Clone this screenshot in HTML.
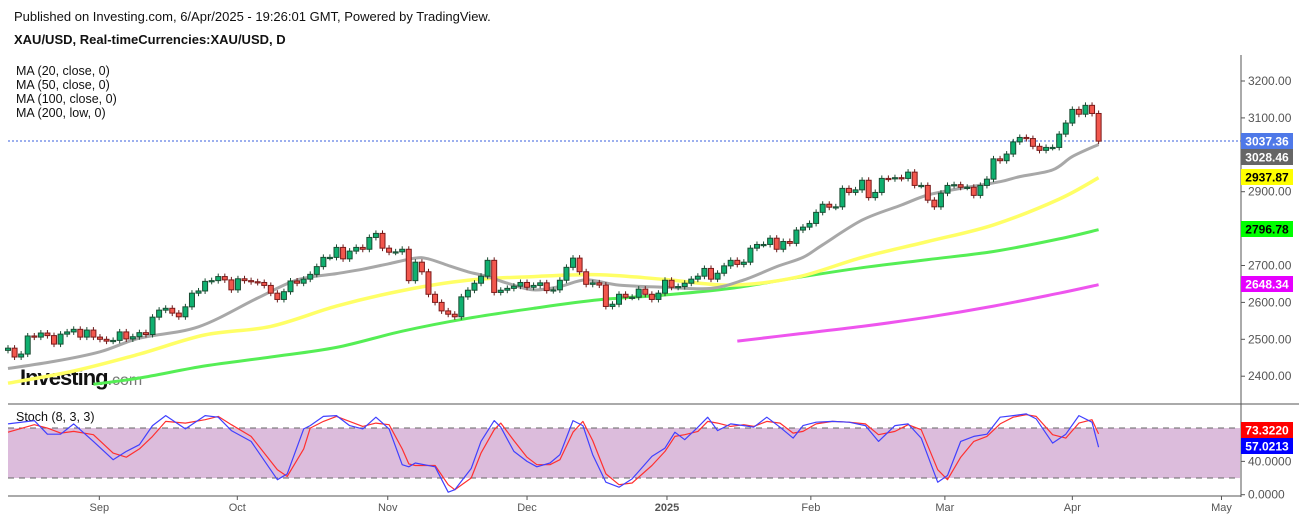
<!DOCTYPE html>
<html><head><meta charset="utf-8"><style>
body{margin:0;background:#fff;font-family:"Liberation Sans",sans-serif;}
#wrap{position:relative;width:1299px;height:520px;overflow:hidden;}
.t{position:absolute;font-size:13px;color:#111;white-space:nowrap;}
</style></head><body>
<div id="wrap">
<div class="t" style="left:14px;top:9px;">Published on Investing.com, 6/Apr/2025 - 19:26:01 GMT, Powered by TradingView.</div>
<div class="t" style="left:14px;top:32px;font-weight:bold;">XAU/USD, Real-timeCurrencies:XAU/USD, D</div>
<div class="t" style="left:16px;top:64px;line-height:14px;font-size:12.5px;">MA (20, close, 0)<br>MA (50, close, 0)<br>MA (100, close, 0)<br>MA (200, low, 0)</div>
<div class="t" style="left:20px;top:365px;font-size:22px;font-weight:bold;letter-spacing:-1px;">Investing<span style="font-weight:normal;color:#777;font-size:16px;letter-spacing:0">.com</span></div>
<div class="t" style="left:16px;top:410px;font-size:12.5px;">Stoch (8, 3, 3)</div>
<svg id="svg" width="1299" height="520" style="position:absolute;left:0;top:0;"></svg>
</div>
<script>
const closes=[2476,2452,2460,2509,2506,2517,2510,2487,2514,2520,
2527,2506,2525,2506,2500,2495,2497,2520,2501,2507,
2518,2513,2560,2579,2584,2571,2561,2588,2625,2631,
2657,2659,2670,2661,2634,2664,2659,2656,2654,2646,
2625,2608,2629,2658,2652,2663,2676,2697,2722,2722,
2749,2718,2739,2749,2744,2776,2787,2747,2736,2737,
2744,2659,2709,2683,2622,2600,2577,2568,2561,2615,
2633,2652,2671,2714,2627,2633,2638,2644,2654,2641,
2646,2653,2632,2634,2660,2695,2720,2683,2649,2653,
2647,2589,2595,2622,2614,2614,2636,2622,2608,2625,
2660,2641,2643,2652,2663,2671,2692,2663,2679,2699,
2714,2703,2709,2747,2757,2757,2774,2744,2765,2760,
2796,2804,2814,2844,2866,2858,2859,2909,2898,2905,
2931,2884,2898,2936,2935,2938,2936,2953,2917,2917,
2877,2859,2896,2917,2919,2912,2912,2890,2917,2934,
2989,2984,3002,3035,3047,3044,3023,3012,3020,3020,
3056,3086,3123,3110,3134,3112,3037];
const firstOpen=2470;
const ma20Bars=[0,7,14,20,29,38,44,50,54,58,62,64,67,70,73,76,80,84,88,93,100,107,112,117,121,124,130,136,140,145,151,154,159,162,166];
const ma20Vals=[2421,2440,2466,2503,2534,2612,2661,2678,2690,2705,2720,2718,2700,2683,2670,2652,2634,2643,2661,2647,2641,2638,2661,2697,2722,2756,2823,2864,2891,2909,2927,2941,2959,2995,3028];
const ma50Bars=[0,10,20,30,40,50,60,70,80,90,100,110,120,130,140,150,160,166];
const ma50Vals=[2381,2414,2460,2512,2535,2590,2632,2660,2670,2675,2662,2647,2668,2722,2765,2810,2880,2938];
const ma100Bars=[13,20,30,40,50,60,70,80,90,100,110,120,130,140,150,160,166];
const ma100Vals=[2378,2395,2428,2452,2478,2522,2557,2584,2607,2620,2638,2667,2694,2716,2738,2772,2797];
const ma200Bars=[111,120,130,140,150,160,166];
const ma200Vals=[2495,2514,2535,2560,2590,2625,2648];
const stBars=[0,4,6,8,10,13,16,18,20,22,24,27,30,32,34,37,41,42.5,45,46,48,50,52,54,56,58,60,61,62,65,67,68,70.5,72,74,75,77,79,80.5,82.5,84,86,87.5,89,91,93,95,98,100,101.5,103,105,106.5,108,110,112,113.5,115.5,117.5,119.5,121,123,125.5,128,130.5,132.5,135,137,139,141.5,143,145,147,149,151,153,155,156.5,159,161,163,165,166];
const stK=[85,89,72.6,72.6,85,64,42,52,60,83,95,79,95,93,77,64,18,25,79,83,94,95,83,79,93,79,36,33.5,38,33.5,3,6,31.5,64,89,81,52,40,33.5,38,48,89,83,48,15,9,19,46,56,75,66,81,93,77,85,83,81,93,81,68,83,87,88,87,83,64,83,85,68,15,23,64,70,72.6,93,95,97,91,62,72.6,95,87,57];
const stD=[75,84,80,74,76,72,50,45,55,70,88,86,90,94,84,70,30,22,55,80,88,94,88,82,86,84,55,37,35,35,12,6,20,50,78,86,65,45,36,36,42,75,88,65,25,12,14,35,52,70,72,76,88,86,82,84,82,88,86,74,76,85,88,87,85,72,76,84,78,30,18,45,64,70,85,93,96,94,72,68,86,90,73];
const priceTicks=[3200,3100,2900,2700,2600,2500,2400];
const months=["Sep","Oct","Nov","Dec","2025","Feb","Mar","Apr","May"];
const monthBars=[13.9,34.9,57.8,79,100.3,122.2,142.6,162,184.7];
const labels=[["3037.36",3037.36,"#4f79e8","#fff"],["3028.46",3028.46,"#666","#fff"],["2937.87",2937.87,"#ffff00","#000"],["2796.78",2796.78,"#00ff00","#000"],["2648.34",2648.34,"#e600ff","#fff"]];
const labelY=[141,157,177,229,284];

const X=i=>8+i*6.57;
const Y=p=>81+(3200-p)*0.369;
const SY=v=>494.7-v*0.833;
const svg=document.getElementById('svg');
const NS='http://www.w3.org/2000/svg';
function mk(tag,at,parent){const e=document.createElementNS(NS,tag);for(const k in at)e.setAttribute(k,at[k]);(parent||svg).appendChild(e);return e;}

let e;
e=mk('line',{x1:1241,y1:55,x2:1241,y2:497,stroke:'#555','stroke-width':1});

e=mk('line',{x1:8,y1:404,x2:1299,y2:404,stroke:'#555','stroke-width':1});

e=mk('line',{x1:8,y1:496,x2:1241,y2:496,stroke:'#555','stroke-width':1});


priceTicks.forEach(p=>{
 mk('line',{x1:1241,y1:Y(p),x2:1245,y2:Y(p),stroke:'#555'});
 const t=mk('text',{x:1248,y:Y(p)+4,'font-size':12,fill:'#555','font-family':'Liberation Sans'});t.textContent=p.toFixed(2);
 
});
months.forEach((m,i)=>{
 const x=X(monthBars[i]);
 mk('line',{x1:x,y1:496,x2:x,y2:500,stroke:'#555'});
 const t=mk('text',{x:x,y:511,'font-size':11,fill:'#555','text-anchor':'middle','font-weight':m==='2025'?'bold':'normal','font-family':'Liberation Sans'});t.textContent=m;
 
});

e=mk('rect',{x:8,y:SY(80),width:1232,height:SY(20)-SY(80),fill:'#dcbcdc'});

[80,20].forEach(v=>mk('line',{x1:8,y1:SY(v),x2:1240,y2:SY(v),stroke:'#666','stroke-dasharray':'6,5'}));
[[40,'40.0000'],[0,'0.0000']].forEach(a=>{mk('line',{x1:1241,y1:SY(a[0]),x2:1245,y2:SY(a[0]),stroke:'#555'});const t=mk('text',{x:1248,y:SY(a[0])+4,'font-size':12,fill:'#555'});t.textContent=a[1];});

function line(bars,vals,col,w,yf,name,smooth){
 const pts=bars.map((b,i)=>[X(b),yf(vals[i])]);
 let d='M'+pts[0][0].toFixed(1)+','+pts[0][1].toFixed(1);
 for(let i=0;i<pts.length-1;i++){
  if(!smooth){d+='L'+pts[i+1][0].toFixed(1)+','+pts[i+1][1].toFixed(1);continue;}
  const p0=pts[Math.max(i-1,0)],p1=pts[i],p2=pts[i+1],p3=pts[Math.min(i+2,pts.length-1)];
  const c1=[p1[0]+(p2[0]-p0[0])/6,p1[1]+(p2[1]-p0[1])/6],c2=[p2[0]-(p3[0]-p1[0])/6,p2[1]-(p3[1]-p1[1])/6];
  d+='C'+c1[0].toFixed(1)+','+c1[1].toFixed(1)+' '+c2[0].toFixed(1)+','+c2[1].toFixed(1)+' '+p2[0].toFixed(1)+','+p2[1].toFixed(1);
 }
 const p=mk('path',{d:d,fill:'none',stroke:col,'stroke-width':w,'stroke-linejoin':'round'});
 
}
line(ma200Bars,ma200Vals,'#ee55ee',3,Y,'ma200-line',true);
line(ma100Bars,ma100Vals,'#55ee55',3,Y,'ma100-line',true);
line(ma50Bars,ma50Vals,'#ffff66',3.5,Y,'ma50-line',true);
line(ma20Bars,ma20Vals,'#a8a8a8',3,Y,'ma20-line',true);

e=mk('line',{x1:8,y1:Y(3037.36),x2:1241,y2:Y(3037.36),stroke:'#3a5fdc','stroke-dasharray':'2,2'});


closes.forEach((c,i)=>{
 const o=i?closes[i-1]:firstOpen;
 const up=c>=o,x=X(i);
 const top=Y(Math.max(o,c)),bot=Y(Math.min(o,c));
 mk('line',{x1:x,y1:top-3,x2:x,y2:bot+3,stroke:up?'#1b4d33':'#6b1a1a','stroke-width':1});
 const r=mk('rect',{x:x-2.5,y:top,width:5,height:Math.max(bot-top,1.2),fill:up?'#0fb070':'#f2574d',stroke:up?'#1b4d33':'#7a1a1a','stroke-width':1});
 
 
});

line(stBars,stD,'#ff3030',1.2,SY,'stoch-d-line',false);
line(stBars,stK,'#4040ff',1.2,SY,'stoch-k-line',false);

labels.forEach((l,i)=>{
 const y=labelY[i];
 mk('rect',{x:1241,y:y-8,width:52,height:16,fill:l[2]});
 const t=mk('text',{x:1267,y:y+4.5,'font-size':12,'text-anchor':'middle',fill:l[3],'font-weight':'bold'});t.textContent=l[0];
 
});
[["73.3220",430,"#ff0000"],["57.0213",446,"#0000ff"]].forEach(a=>{
 mk('rect',{x:1241,y:a[1]-8,width:52,height:16,fill:a[2]});
 const t=mk('text',{x:1267,y:a[1]+4.5,'font-size':12,'text-anchor':'middle',fill:'#fff','font-weight':'bold'});t.textContent=a[0];
 
});
</script>
</body></html>
